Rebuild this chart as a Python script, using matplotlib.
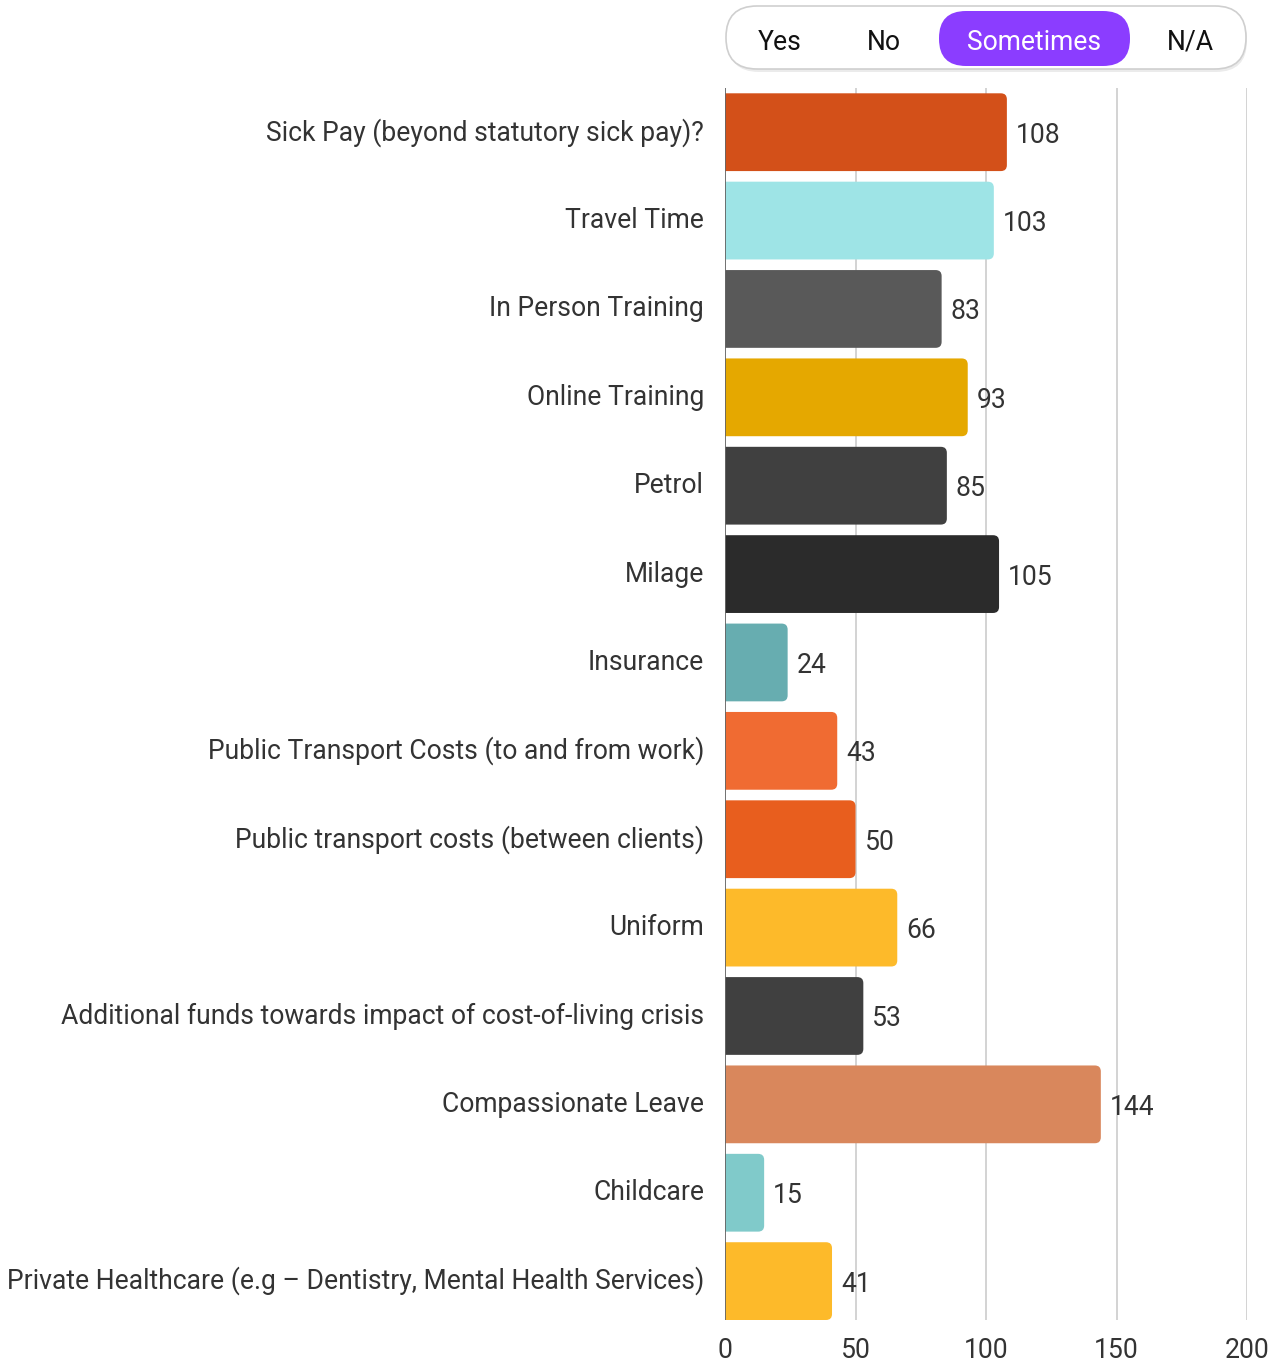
import matplotlib
matplotlib.use("Agg")
import matplotlib.pyplot as plt
from matplotlib.patches import FancyBboxPatch

plt.rcParams['font.family'] = ['Roboto', 'DejaVu Sans']

categories = [
    "Sick Pay (beyond statutory sick pay)?",
    "Travel Time",
    "In Person Training",
    "Online Training",
    "Petrol",
    "Milage",
    "Insurance",
    "Public Transport Costs (to and from work)",
    "Public transport costs (between clients)",
    "Uniform",
    "Additional funds towards impact of cost-of-living crisis",
    "Compassionate Leave",
    "Childcare",
    "Private Healthcare (e.g \u2013 Dentistry, Mental Health Services)",
]
values = [108, 103, 83, 93, 85, 105, 24, 43, 50, 66, 53, 144, 15, 41]
bar_colors = [
    "#D35019", "#9EE4E6", "#595959", "#E5A800", "#404040", "#2B2B2B", "#67ADB0",
    "#F06B32", "#E85E1E", "#FDBA2A", "#404040", "#D9875C", "#80CACA", "#FDBA2A",
]
x_ticks = [0, 50, 100, 150, 200]
toggle_options = ["Yes", "No", "Sometimes", "N/A"]
active_option = "Sometimes"

FS = 19.1

W, H = 1282, 1361
fig = plt.figure(figsize=(W / 100, H / 100), dpi=100)
ax_left, ax_right, ax_top, ax_bottom = 725, 1247, 88, 1320
ax = fig.add_axes([ax_left / W, 1 - ax_bottom / H, (ax_right - ax_left) / W,
                   (ax_bottom - ax_top) / H])

ax.set_xlim(0, 200)
ax.set_ylim(13.44, -0.5)
ypos = list(range(len(categories)))

# grid
for t in x_ticks[1:]:
    ax.axvline(t, color="#D0D0D0", lw=1.3, zorder=0)

bars = ax.barh(ypos, values, height=0.88, color=bar_colors, zorder=2)

# rounded right corners
px_x = 200 / (ax_right - ax_left)
px_y = 13.94 / (ax_bottom - ax_top)
radius_px = 6
for b in bars:
    b.set_visible(False)
    x0, y0 = b.get_x(), b.get_y()
    w, h = b.get_width(), b.get_height()
    ext = 10
    p = FancyBboxPatch((x0 - ext, y0), w + ext, h,
                       boxstyle=f"round,pad=0,rounding_size={radius_px * px_x}",
                       mutation_aspect=px_y / px_x,
                       facecolor=b.get_facecolor(), edgecolor="none", zorder=2,
                       clip_on=True)
    ax.add_patch(p)

ax.axvline(0, color="#666666", lw=1.3, zorder=3)

for y, v in zip(ypos, values):
    ax.text(v + 9 * px_x, y, str(v), va="center_baseline", ha="left", fontsize=FS,
            color="#333333", zorder=4)

ax.set_yticks(ypos)
ax.set_yticklabels(categories, fontsize=FS, color="#333333")
for lbl in ax.get_yticklabels():
    lbl.set_verticalalignment("center")
ax.set_xticks(x_ticks)
ax.set_xticklabels([str(t) for t in x_ticks], fontsize=FS, color="#333333")
ax.tick_params(axis="y", length=0, pad=15)
ax.tick_params(axis="x", length=0, pad=12)
for s in ax.spines.values():
    s.set_visible(False)

# option toggle above the chart
tax = fig.add_axes([0, 0, 1, 1])
tax.set_xlim(0, W)
tax.set_ylim(H, 0)
tax.axis("off")
shadow = FancyBboxPatch((728, 9), 519, 63, boxstyle="round,pad=0,rounding_size=31",
                        facecolor="#000000", alpha=0.08, edgecolor="none")
tax.add_patch(shadow)
pill = FancyBboxPatch((726, 6), 520, 63, boxstyle="round,pad=0,rounding_size=31",
                      facecolor="white", edgecolor="#CFCFCF", lw=1.2)
tax.add_patch(pill)
active = FancyBboxPatch((939, 11), 191, 55, boxstyle="round,pad=0,rounding_size=27",
                        facecolor="#8B3DFF", edgecolor="none")
tax.add_patch(active)
opt_x = [780, 884, 1034, 1190]
for label, x in zip(toggle_options, opt_x):
    tax.text(x, 39, label, ha="center", va="center_baseline", fontsize=FS,
             color="white" if label == active_option else "#111111")

fig.savefig("out.png", dpi=100)
